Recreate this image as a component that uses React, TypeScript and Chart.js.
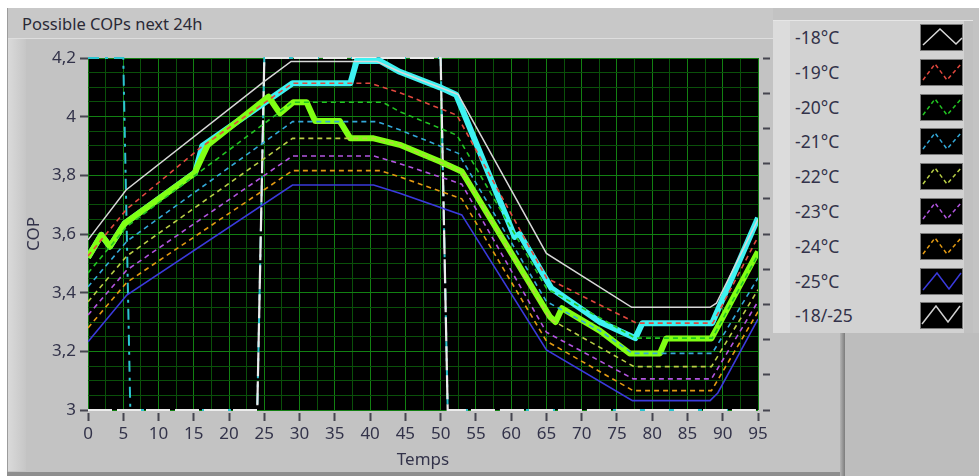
import React, { useEffect, useRef } from "react";
import { Chart, registerables } from "chart.js";

Chart.register(...registerables);

// ---- data (Temps = x, COP = y) ----
const X_18 = [0, 5.4, 25, 28.8, 41, 44.2, 52.5, 65, 77.1, 88.2, 89.1, 95];
const Y_18 = [3.58, 3.75, 4.12, 4.188, 4.188, 4.153, 4.075, 3.534, 3.35, 3.35, 3.364, 3.65];
const X_19 = [0, 5.5, 16, 29, 40, 44.2, 52.3, 65, 72.6, 77.8, 88.6, 95];
const Y_19 = [3.525, 3.685, 3.895, 4.114, 4.114, 4.082, 4.005, 3.45, 3.358, 3.296, 3.296, 3.59];
const X_20 = [0, 5.5, 29, 41.8, 44.2, 52.3, 65, 72.6, 77.6, 88.5, 95];
const Y_20 = [3.467, 3.625, 4.049, 4.049, 4.017, 3.937, 3.415, 3.314, 3.245, 3.245, 3.53];
const X_21 = [0, 5.5, 29, 41, 44.2, 52.5, 65, 72.6, 77.2, 88.5, 95];
const Y_21 = [3.42, 3.575, 3.983, 3.983, 3.955, 3.875, 3.37, 3.27, 3.193, 3.193, 3.45];
const X_22 = [0, 5.5, 29, 40.5, 44.2, 53, 65.5, 77.4, 88.4, 95];
const Y_22 = [3.369, 3.525, 3.926, 3.926, 3.904, 3.813, 3.31, 3.148, 3.148, 3.41];
const X_23 = [0, 5.5, 29, 40.5, 44.2, 53, 65, 77.3, 88.4, 95];
const Y_23 = [3.324, 3.477, 3.866, 3.866, 3.84, 3.77, 3.265, 3.106, 3.106, 3.37];
const X_24 = [0, 5.5, 29, 41.4, 44.2, 53, 65, 77.3, 88.4, 95];
const Y_24 = [3.28, 3.435, 3.816, 3.816, 3.795, 3.72, 3.235, 3.066, 3.066, 3.335];
const X_25 = [0, 5.5, 29, 40.5, 44.2, 53, 65, 77.2, 88.2, 89.3, 95];
const Y_25 = [3.233, 3.392, 3.767, 3.767, 3.739, 3.665, 3.205, 3.032, 3.032, 3.058, 3.31];

// thick selection curves
const X_CYAN = [0, 1.9, 3.1, 5.2, 15.2, 16.2, 29, 37.2, 38.1, 41.4, 44.2, 49.9, 52.2, 60.5, 61.2, 65.7, 72.6, 77.6, 78.6, 88.5, 95];
const Y_CYAN = [3.52, 3.597, 3.557, 3.636, 3.81, 3.9, 4.114, 4.114, 4.19, 4.19, 4.153, 4.1, 4.075, 3.59, 3.6, 3.415, 3.3, 3.245, 3.296, 3.296, 3.655];
const X_LIME = [0, 1.9, 3.1, 5.2, 15.1, 17, 25.6, 27.2, 29.1, 31, 32.2, 35.7, 37.2, 40.5, 44.2, 49.9, 53, 65.5, 66.3, 67.2, 72.6, 76.8, 81.1, 82, 88.4, 95];
const Y_LIME = [3.52, 3.597, 3.557, 3.636, 3.807, 3.904, 4.068, 4.011, 4.049, 4.049, 3.985, 3.985, 3.926, 3.926, 3.904, 3.847, 3.813, 3.318, 3.3, 3.347, 3.27, 3.193, 3.193, 3.244, 3.244, 3.54];

// step curves
const X_STEP_CYAN = [0, 5, 6, 24, 25, 50, 51, 95];
const Y_STEP_CYAN = [4.2, 4.2, 3, 3, 4.2, 4.2, 3, 3];
const X_STEP_WHITE = [0, 24, 25, 50, 51, 95];
const Y_STEP_WHITE = [3, 3, 4.2, 4.2, 3, 3];

const LEGEND_LABELS = ["-18°C", "-19°C", "-20°C", "-21°C", "-22°C", "-23°C", "-24°C", "-25°C", "-18/-25"];
const Y_MAJOR = [3, 3.2, 3.4, 3.6, 3.8, 4, 4.2];
const Y_LABELS = ["3", "3,2", "3,4", "3,6", "3,8", "4", "4,2"];

const TITLE = "Possible COPs next 24h";
const X_TITLE = "Temps";
const Y_TITLE = "COP";

// ---- styles ----
const THIN = [
  { xs: X_18, ys: Y_18, color: "#d8d8d8", dash: [] as number[], w: 1.5 },
  { xs: X_19, ys: Y_19, color: "#e2483e", dash: [5, 4], w: 1.6 },
  { xs: X_20, ys: Y_20, color: "#22c422", dash: [5, 4], w: 1.6 },
  { xs: X_21, ys: Y_21, color: "#33a8d8", dash: [5, 4], w: 1.6 },
  { xs: X_22, ys: Y_22, color: "#b9cf45", dash: [5, 4], w: 1.6 },
  { xs: X_23, ys: Y_23, color: "#b255e0", dash: [5, 4], w: 1.6 },
  { xs: X_24, ys: Y_24, color: "#e39a12", dash: [5, 4], w: 1.6 },
  { xs: X_25, ys: Y_25, color: "#3a3adc", dash: [] as number[], w: 1.6 },
];
const SWATCH = [
  { color: "#d8d8d8", dash: "", pts: "3,21 20,5 36,20 42,14" },
  { color: "#e2483e", dash: "4 3", pts: "3,21 15,5 27,21 41,5" },
  { color: "#22c422", dash: "4 3", pts: "3,21 15,5 27,21 41,5" },
  { color: "#33a8d8", dash: "4 3", pts: "3,21 15,5 27,21 41,5" },
  { color: "#b9cf45", dash: "4 3", pts: "3,21 15,5 27,21 41,5" },
  { color: "#b255e0", dash: "4 3", pts: "3,21 15,5 27,21 41,5" },
  { color: "#e39a12", dash: "4 3", pts: "3,21 15,5 27,21 41,5" },
  { color: "#3a3adc", dash: "", pts: "3,22 17,5 29,21 41,5" },
  { color: "#d0d0d0", dash: "", pts: "2,22 16,4 28,20 40,4" },
];

const pts = (xs: number[], ys: number[]) => xs.map((x, i) => ({ x, y: ys[i] }));
const isMult = (v: number, s: number) => Math.abs(v / s - Math.round(v / s)) < 1e-6;

const FONT = "'Noto Sans', 'DejaVu Sans', sans-serif";
const TEXT = "#33334a";
const GRID_MAJOR = "#128012";
const GRID_MINOR = "#0a500a";

const plotBg = {
  id: "plotBg",
  beforeDraw(chart: any) {
    const { ctx, chartArea: a } = chart;
    ctx.save();
    ctx.fillStyle = "#000";
    ctx.fillRect(a.left, a.top, a.right - a.left, a.bottom - a.top);
    ctx.restore();
  },
};

export default function App() {
  const ref = useRef<HTMLCanvasElement>(null);

  useEffect(() => {
    const canvas = ref.current!;
    const datasets: any[] = [];
    THIN.forEach((s) => {
      datasets.push({
        data: pts(s.xs, s.ys),
        borderColor: s.color,
        borderDash: s.dash,
        borderWidth: s.w,
        pointRadius: 0,
        tension: 0,
        order: 1,
      });
    });
    datasets.push({
      data: pts(X_LIME, Y_LIME),
      borderColor: "#80ff14",
      borderWidth: 6,
      borderJoinStyle: "round",
      pointRadius: 0,
      tension: 0,
      order: 2,
    });
    datasets.push({
      data: pts(X_CYAN, Y_CYAN),
      borderColor: "#3ef2f2",
      borderWidth: 6,
      borderJoinStyle: "round",
      pointRadius: 0,
      tension: 0,
      order: 3,
    });
    datasets.push({
      data: pts(X_STEP_WHITE, Y_STEP_WHITE),
      borderColor: "#ececec",
      borderDash: [24, 5],
      borderWidth: 2.2,
      pointRadius: 0,
      tension: 0,
      clip: 4,
      order: 4,
    });
    datasets.push({
      data: pts(X_STEP_CYAN, Y_STEP_CYAN),
      borderColor: "#2cc4d0",
      borderDash: [11, 6, 3, 6],
      borderWidth: 2,
      pointRadius: 0,
      tension: 0,
      clip: 4,
      order: 5,
    });

    const chart = new Chart(canvas, {
      type: "line",
      data: { datasets },
      options: {
        animation: false,
        responsive: false,
        maintainAspectRatio: false,
        layout: { padding: { left: 0, top: 58, right: 209, bottom: 6 } },
        plugins: { legend: { display: false }, tooltip: { enabled: false } },
        scales: {
          x: {
            type: "linear",
            min: 0,
            max: 95,
            afterFit: (s: any) => {
              s.height = 60;
            },
            border: { display: false },
            grid: {
              color: (c: any) => (c.tick && isMult(c.tick.value, 5) ? GRID_MAJOR : GRID_MINOR),
              lineWidth: 1,
              tickLength: 11,
              tickWidth: 2,
              tickColor: (c: any) => (c.tick && isMult(c.tick.value, 5) ? "#45454f" : "rgba(0,0,0,0)"),
              tickBorderDash: [0, 3, 8, 40],
            },
            ticks: {
              stepSize: 2.5,
              autoSkip: false,
              maxRotation: 0,
              maxTicksLimit: 200,
              padding: 3,
              color: TEXT,
              font: { family: FONT, size: 17 },
              callback: (v: any) => (isMult(Number(v), 5) ? String(Math.round(Number(v))) : ""),
            },
            title: {
              display: true,
              text: X_TITLE,
              color: TEXT,
              font: { family: FONT, size: 17 },
              padding: { top: 0, bottom: 0 },
            },
          },
          y: {
            type: "linear",
            position: "left",
            min: 3,
            max: 4.2,
            afterFit: (s: any) => {
              s.width = 88;
            },
            border: { display: false },
            grid: {
              color: (c: any) => (c.tick && isMult(c.tick.value, 0.2) ? GRID_MAJOR : GRID_MINOR),
              lineWidth: 1,
              tickLength: 10,
              tickWidth: 2,
              tickColor: (c: any) => (c.tick && isMult(c.tick.value, 0.2) ? "#45454f" : "rgba(0,0,0,0)"),
              tickBorderDash: [0, 2, 8, 40],
            },
            ticks: {
              stepSize: 0.05,
              autoSkip: false,
              maxTicksLimit: 200,
              padding: 2,
              color: TEXT,
              font: { family: FONT, size: 17 },
              callback: (v: any) => {
                const n = Number(v);
                const idx = Y_MAJOR.findIndex((m) => Math.abs(m - n) < 1e-6);
                return idx >= 0 ? Y_LABELS[idx] : "";
              },
            },
            title: {
              display: true,
              text: Y_TITLE,
              color: TEXT,
              font: { family: FONT, size: 17 },
              padding: { top: 24, bottom: 0 },
            },
          },
          y2: {
            type: "linear",
            position: "right",
            min: 0,
            max: 10,
            afterFit: (s: any) => {
              s.width = 12;
            },
            border: { display: false },
            grid: {
              drawOnChartArea: false,
              tickLength: 12,
              tickWidth: 2,
              tickColor: "#45454f",
              tickBorderDash: [0, 5, 7, 40],
            },
            ticks: { display: false, stepSize: 1 },
          },
        },
      } as any,
      plugins: [plotBg],
    });
    return () => chart.destroy();
  }, []);

  return (
    <div
      style={{
        position: "fixed",
        left: 0,
        top: 0,
        width: 979,
        height: 476,
        background: "#ffffff",
        overflow: "hidden",
        fontFamily: FONT,
      }}
    >
      {/* panel */}
      <div style={{ position: "absolute", left: 7, top: 8, width: 972, height: 468, background: "#c3c3c3", borderLeft: "1px solid #9c9c9c" }} />
      {/* title bar */}
      <div style={{ position: "absolute", left: 8, top: 8, width: 765, height: 30, background: "#c8c8c8", borderBottom: "1px solid #dedede" }} />
      <div style={{ position: "absolute", left: 22, top: 8, height: 31, lineHeight: "31px", fontSize: 16.5, color: "#2a2a36", whiteSpace: "nowrap" }}>
        {TITLE}
      </div>
      {/* left light strip */}
      <div style={{ position: "absolute", left: 8, top: 39, width: 18, height: 432, background: "linear-gradient(to right, #dadada, #c6c6c6)" }} />
      {/* bottom dark edge */}
      <div style={{ position: "absolute", left: 7, top: 472, width: 838, height: 4, background: "#8e8e8e" }} />
      {/* right shadow and area */}
      <div style={{ position: "absolute", left: 840, top: 333, width: 5, height: 143, background: "linear-gradient(to right, #b4b4b4, #7c7c7c)" }} />
      <div style={{ position: "absolute", left: 845, top: 333, width: 134, height: 143, background: "#bdbdbd" }} />

      <canvas ref={ref} width={979} height={476} style={{ position: "absolute", left: 0, top: 0, width: 979, height: 476 }} />

      {/* legend */}
      <div
        style={{
          position: "absolute",
          left: 773,
          top: 20,
          width: 200,
          height: 313,
          background: "#d2d2d2",
          borderTop: "1px solid #e6e6e6",
          boxSizing: "border-box",
        }}
      >
        <div style={{ position: "absolute", left: 0, top: 0, width: 17, height: "100%", background: "#dcdcdc" }} />
        <div style={{ position: "absolute", right: 0, top: 0, width: 9, height: "100%", background: "#c0c0c0" }} />
        {LEGEND_LABELS.map((label, i) => (
          <React.Fragment key={label}>
            <div
              style={{
                position: "absolute",
                left: 22,
                top: 3 + i * 34.8,
                height: 27,
                lineHeight: "27px",
                fontSize: 17.5,
                color: TEXT,
                whiteSpace: "nowrap",
              }}
            >
              {label}
            </div>
            <svg
              width={43}
              height={27}
              style={{ position: "absolute", left: 147, top: 3 + i * 34.8 }}
            >
              <rect x={0.5} y={0.5} width={42} height={26} fill="#000" stroke="#7a7a7a" />
              <polyline
                points={SWATCH[i].pts}
                fill="none"
                stroke={SWATCH[i].color}
                strokeWidth={1.5}
                strokeDasharray={SWATCH[i].dash || undefined}
              />
            </svg>
          </React.Fragment>
        ))}
      </div>
    </div>
  );
}
